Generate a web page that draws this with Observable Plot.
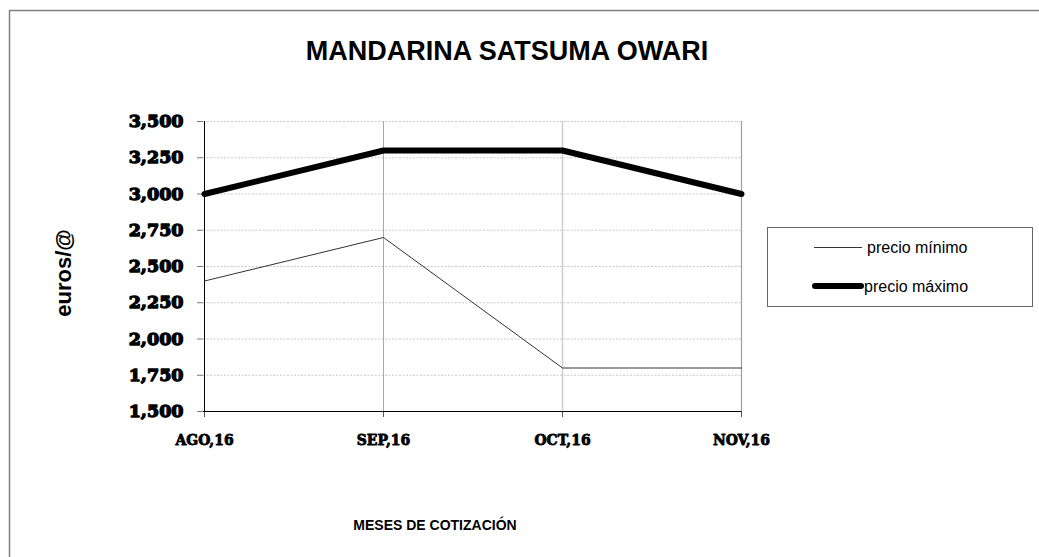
<!DOCTYPE html>
<html><head><meta charset="utf-8">
<script src="https://cdn.jsdelivr.net/npm/d3@7"></script>
<script src="https://cdn.jsdelivr.net/npm/@observablehq/plot@0.6"></script>
<style>
body{margin:0;background:#fff;}
#chart{position:relative;width:1039px;height:557px;overflow:hidden;}
</style></head>
<body><div id="chart"></div>
<script>
const months = ["AGO,16", "SEP,16", "OCT,16", "NOV,16"];
const precioMinimo = [2.4, 2.7, 1.8, 1.8];
const precioMaximo = [3.0, 3.3, 3.3, 3.0];
const yTicks = [1.5, 1.75, 2.0, 2.25, 2.5, 2.75, 3.0, 3.25, 3.5];
const title = "MANDARINA SATSUMA OWARI";
const yLabel = "euros/@";
const xLabel = "MESES DE COTIZACIÓN";
const seriesNames = ["precio mínimo", "precio máximo"];

const minData = months.map((m, i) => ({m, v: precioMinimo[i]}));
const maxData = months.map((m, i) => ({m, v: precioMaximo[i]}));
const fmt = d => d.toFixed(3).replace(".", ",");

const W = 1039, H = 557;
const plot = Plot.plot({
  width: W, height: H,
  marginLeft: 203, marginRight: 298, marginTop: 121, marginBottom: 146,
  style: {background: "white", overflow: "visible"},
  x: {type: "point", domain: months, padding: 0, label: null},
  y: {domain: [1.5, 3.5], ticks: yTicks, label: null},
  marks: [
    Plot.ruleY(yTicks.slice(1), {stroke: "#c8c8c8", strokeDasharray: "2,1.5", strokeWidth: 1}),
    Plot.ruleX(months.slice(1), {stroke: ["#a8a8a8", "#cfcfcf", "#a0a0a0"], strokeWidth: [1, 1.5, 1.2]}),
    Plot.axisY({ticks: yTicks, tickFormat: fmt, tickSize: 6, tickPadding: 14, stroke: "#777",
      fontFamily: "DejaVu Serif", fontWeight: "bold", fontSize: 17.5, fill: "black", textStroke: "black", textStrokeWidth: 1.3, label: null}),
    Plot.axisX({tickSize: 6, tickPadding: 16, stroke: "#555",
      fontFamily: "DejaVu Serif Condensed", fontWeight: "bold", fontSize: 15.5, fill: "black", textStroke: "black", textStrokeWidth: 0.8, label: null}),
    Plot.ruleX([months[0]], {y1: 1.5, y2: 3.5, stroke: "black", strokeWidth: 1}),
    Plot.ruleY([1.5], {stroke: "black", strokeWidth: 1.2}),
    Plot.line(minData, {x: "m", y: "v", stroke: "#333", strokeWidth: 1}),
    Plot.line(maxData, {x: "m", y: "v", stroke: "black", strokeWidth: 6, strokeLinejoin: "miter"})
  ]
});
document.getElementById("chart").appendChild(plot);

const svg = d3.select(plot);
const sans = "Liberation Sans, Arial, sans-serif";
// outer frame
svg.append("path").attr("d", `M9.5,${H+5} V10.5 H${W+5}`).attr("fill", "none").attr("stroke", "#808080").attr("stroke-width", 1.5);
// title
svg.append("text").text(title).attr("x", 507).attr("y", 60).attr("text-anchor", "middle")
  .attr("font-family", sans).attr("font-weight", "bold").attr("font-size", 27).attr("fill", "black");
// y label
svg.append("text").text(yLabel).attr("transform", "translate(71,273) rotate(-90)").attr("text-anchor", "middle")
  .attr("font-family", sans).attr("font-weight", "bold").attr("font-size", 22).attr("fill", "black");
// x label
svg.append("text").text(xLabel).attr("x", 435).attr("y", 530).attr("text-anchor", "middle")
  .attr("font-family", sans).attr("font-weight", "bold").attr("font-size", 14).attr("fill", "black");
// legend
const lg = svg.append("g");
lg.append("rect").attr("x", 767.5).attr("y", 227.5).attr("width", 265).attr("height", 79).attr("fill", "white").attr("stroke", "#666").attr("stroke-width", 1);
lg.append("line").attr("x1", 814).attr("x2", 862).attr("y1", 247.5).attr("y2", 247.5).attr("stroke", "#333").attr("stroke-width", 1);
lg.append("line").attr("x1", 815).attr("x2", 861).attr("y1", 286).attr("y2", 286).attr("stroke", "black").attr("stroke-width", 6).attr("stroke-linecap", "round");
lg.append("text").text(seriesNames[0]).attr("x", 867).attr("y", 253).attr("text-anchor", "start").attr("font-family", sans).attr("font-size", 16).attr("fill", "black");
lg.append("text").text(seriesNames[1]).attr("x", 864).attr("y", 292).attr("text-anchor", "start").attr("font-family", sans).attr("font-size", 16).attr("fill", "black");
</script></body></html>
